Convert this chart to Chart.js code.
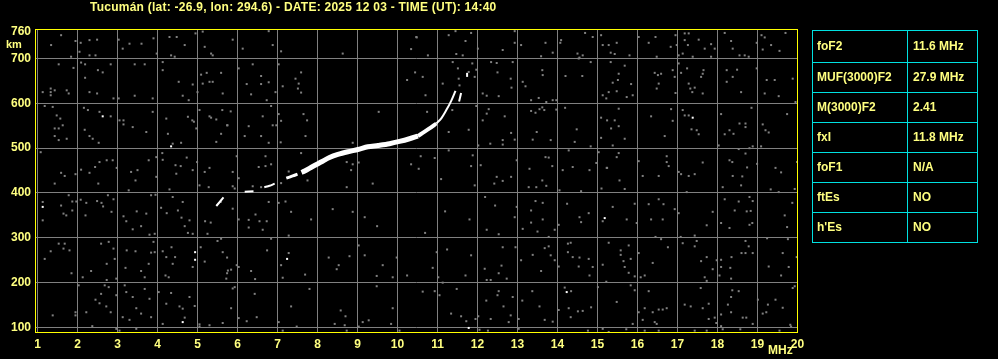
<!DOCTYPE html>
<html><head><meta charset="utf-8">
<script src="https://cdn.jsdelivr.net/npm/chart.js@4.4.1/dist/chart.umd.min.js"></script>
<style>
html,body{margin:0;padding:0;background:#000;width:998px;height:359px;overflow:hidden}
#wrap{position:relative;width:998px;height:359px}
#c{position:absolute;left:0;top:0}
.lbl{position:absolute;color:#ffff80;font-family:"Liberation Sans",Arial,sans-serif;font-weight:bold;white-space:nowrap;line-height:14px}
#title{left:90px;top:0px;font-size:12px;letter-spacing:0.25px}
#km{left:6px;top:37px;font-size:11px}
#mhz{left:768px;top:343px;font-size:12px}
#tbl{position:absolute;left:812px;top:30px;width:164px;height:211px;border:1px solid #00e0e0}
.hl{position:absolute;left:0;width:164px;height:0;border-top:1px solid #00e0e0}
.vl{position:absolute;top:0;height:211px;width:0;border-left:1px solid #00e0e0}
.cell{position:absolute;color:#ffff80;font:bold 12px "Liberation Sans",Arial,sans-serif;white-space:nowrap;line-height:14px}
</style>
</head><body>
<div id="wrap">
<canvas id="c" width="998" height="359"></canvas>
<div class="lbl" id="title">Tucumán (lat: -26.9, lon: 294.6) - DATE: 2025 12 03 - TIME (UT): 14:40</div>
<div class="lbl" id="km">km</div>
<div class="lbl" id="mhz">MHz</div>
<div id="tbl"></div>
</div>
<script>
// ---------- data ----------
const freqTicks = [1,2,3,4,5,6,7,8,9,10,11,12,13,14,15,16,17,18,19,20];
const heightTicks = [100,200,300,400,500,600,700,760];

const tableLabels = ['foF2','MUF(3000)F2','M(3000)F2','fxI','foF1','ftEs',"h'Es"];
const tableValues = ['11.6 MHz','27.9 MHz','2.41','11.8 MHz','N/A','NO','NO'];

// ionogram trace (frequency MHz, virtual height km)
const traceLow1 = [[5.47,371],[5.65,390]];
const traceLow2 = [[6.18,403],[6.40,404]];
const traceLow3 = [[6.67,413],[6.80,416],[6.93,421]];
const traceLow4 = [[7.22,433],[7.38,438],[7.50,442]];
const traceMain = [[7.60,446],[7.68,449],[7.88,459],[8.09,469],[8.30,479],[8.51,486],[8.76,492],[9.01,497],[9.26,503],[9.51,506],[9.80,510],[10.05,515],[10.30,521],[10.51,527]];
const traceBend = [[10.51,527],[10.63,534],[10.80,544],[10.97,555]];
const traceUpper = [[10.97,555],[11.09,566],[11.22,585],[11.34,605],[11.45,628]];
const traceBranch = [[11.54,604],[11.59,623]];
const traceTop = [[11.74,659],[11.74,668]];

// bright isolated echoes
const brightEchoes = [[2.63,571],[4.34,504],[1.13,369],[4.94,268],[4.94,251],[4.63,112],[7.24,253],[15.18,344],[14.23,179],[11.78,99],[17.38,568]];

// grey background noise echoes
const noiseEchoes = [
[1.34,730],[1.59,752],[1.95,739],[2.08,735],[2.05,715],[2.30,707],[2.45,707],[2.49,742],[2.30,741],[3.03,742],[3.13,722],[3.30,733],[3.60,733],[3.90,745],[3.98,711],[4.30,748],[4.48,748],[4.34,707],[4.68,730],[4.95,756],[5.13,760],[5.18,726],[5.34,711],[5.38,707],[1.84,704],[4.43,704],
[1.53,687],[1.90,679],[2.09,691],[2.19,687],[2.51,674],[2.63,669],[2.83,687],[3.43,687],[3.68,687],[4.13,692],[4.13,674],[1.33,633],[1.33,625],[1.33,618],[1.13,625],[1.43,629],[1.73,629],[1.78,622],[2.19,657],[2.30,625],[2.49,622],[2.90,611],[3.03,611],[3.43,617],[3.88,611],[4.53,648],[4.88,642],[4.63,617],[4.78,607],[5.00,625],[5.09,664],[5.23,668],[5.38,648],[5.59,668],[5.63,622],[5.13,644],[5.30,648],
[1.18,594],[1.38,592],[1.48,573],[1.57,566],[1.63,551],[1.43,544],[1.53,544],[1.43,527],[1.73,521],[1.53,518],[2.16,590],[2.26,585],[2.55,581],[2.83,571],[2.18,541],[2.30,527],[2.38,521],[2.53,512],[3.05,562],[3.15,562],[3.15,553],[3.38,547],[3.72,536],[3.88,581],[4.22,566],[4.26,532],[4.38,510],[4.59,512],[4.76,570],[4.87,562],[4.91,559],[4.97,544],[5.05,585],[5.30,571],[5.47,564],[5.62,585],[5.75,551],[5.59,532],[5.47,514],[5.34,568],
[1.08,491],[1.59,445],[1.68,438],[1.95,442],[2.09,452],[2.30,445],[2.44,458],[2.55,469],[2.73,473],[2.88,473],[2.98,456],[3.34,447],[3.45,428],[3.28,406],[3.50,451],[3.78,473],[3.97,480],[4.12,489],[4.13,474],[4.45,462],[4.58,460],[4.73,479],[4.88,451],[4.99,469],[5.05,417],[5.28,413],[5.18,447],[5.30,456],[1.43,421],[2.52,421],[3.97,436],[4.30,408],[4.47,443],
[1.13,380],[1.13,339],[1.59,372],[1.78,395],[1.87,381],[1.97,381],[1.65,354],[1.72,350],[1.87,361],[2.08,385],[2.22,378],[2.20,350],[2.49,382],[2.60,378],[2.64,370],[2.76,395],[2.85,358],[2.90,386],[3.15,348],[3.22,337],[3.38,319],[3.48,359],[3.59,326],[3.72,354],[3.84,395],[3.95,396],[3.80,307],[3.93,309],[4.09,367],[4.23,355],[4.38,391],[4.51,361],[4.63,380],[4.60,345],[4.68,326],[4.76,311],[4.80,339],[4.88,309],[5.19,337],[5.33,334],[5.58,380],[5.25,309],[5.59,298],[5.50,293],
[1.33,270],[1.18,253],[1.53,287],[1.68,287],[1.80,272],[1.65,276],[1.85,221],[2.13,212],[2.34,226],[2.59,287],[2.73,242],[2.78,291],[2.90,276],[2.93,253],[2.97,209],[2.73,206],[3.23,272],[3.20,233],[3.45,270],[3.59,226],[3.68,212],[3.84,267],[3.93,268],[3.78,242],[3.90,291],[4.13,270],[4.22,257],[4.38,242],[4.28,212],[4.20,216],[4.35,279],[4.44,257],[4.88,235],[5.08,279],[5.18,247],[5.63,268],[5.76,227],[5.72,209],
[1.38,127],[1.95,134],[1.95,127],[2.03,194],[2.22,134],[2.45,162],[2.55,154],[2.59,175],[2.68,194],[2.72,147],[2.78,190],[2.83,134],[2.97,172],[3.18,194],[3.22,179],[3.38,168],[3.47,143],[3.59,131],[3.68,186],[3.80,164],[3.84,123],[4.03,179],[4.13,108],[4.22,153],[4.34,177],[4.55,147],[4.63,142],[4.68,122],[4.80,168],[4.93,148],[5.05,107],[5.30,105],[5.63,110],[3.13,123],[3.30,117],[2.97,97],[2.37,103],[3.05,93],[3.47,97],[5.05,102],
[5.88,742],[6.13,722],[6.78,761],[6.88,730],[7.09,716],[8.63,711],[10.34,721],[10.48,747],[6.03,678],[6.38,687],[6.59,661],[6.23,643],[6.59,643],[6.78,647],[6.95,625],[7.03,687],[7.13,638],[7.45,655],[7.53,644],[7.51,633],[7.59,669],[7.59,624],[6.34,620],[6.73,607],[10.24,652],[10.44,669],
[5.83,582],[5.74,551],[6.28,549],[6.18,527],[6.59,527],[6.63,571],[6.78,512],[6.84,594],[6.88,551],[6.97,551],[7.03,576],[7.09,561],[7.08,513],[7.65,576],[7.74,562],[7.70,527],[9.53,581],[8.88,512],
[5.98,482],[5.88,447],[6.03,433],[6.53,458],[6.70,460],[6.84,464],[6.70,482],[5.88,415],[5.93,410],[6.38,415],[6.59,413],[7.09,422],[7.28,448],[7.59,489],[7.75,428],[8.73,469],[8.84,451],[8.88,464],[9.03,468],[9.38,421],[8.73,413],[10.34,464],
[5.88,365],[6.03,341],[6.28,340],[6.28,323],[6.45,352],[6.55,337],[6.63,318],[6.73,337],[6.78,380],[7.03,378],[7.20,381],[7.34,358],[7.28,305],[7.84,341],[8.38,364],[8.88,358],[9.18,346],[9.49,326],[6.84,298],
[5.74,256],[6.03,235],[5.98,239],[6.34,226],[6.44,208],[6.74,272],[7.09,239],[7.13,211],[7.28,266],[7.69,218],[8.28,256],[8.53,239],[8.48,230],[8.80,259],[9.03,283],[9.18,261],[9.48,215],[9.63,239],[9.88,212],[9.98,256],[10.24,216],[5.84,229],[5.74,221],
[5.88,187],[5.93,190],[6.43,175],[5.84,143],[6.03,121],[6.23,114],[6.48,123],[7.03,112],[7.34,147],[7.48,102],[7.80,186],[8.43,108],[8.58,138],[8.70,125],[8.68,105],[9.03,102],[9.13,112],[9.28,116],[9.48,192],[9.88,143],[9.84,108],[10.05,93],[8.73,93],[7.13,93],
[10.47,748],[11.28,752],[11.45,761],[11.70,739],[11.84,757],[12.01,722],[12.63,719],[12.93,761],[12.93,735],[13.09,730],[13.59,705],[13.70,735],[13.88,713],[14.09,741],[14.07,735],[14.50,711],[14.55,702],[14.63,707],[14.69,757],[14.88,748],[15.09,752],[10.76,707],[11.47,710],[11.63,707],[15.13,730],
[10.63,659],[10.70,618],[11.13,644],[11.38,692],[11.51,678],[11.53,655],[11.55,640],[11.78,670],[11.87,689],[11.97,675],[11.93,659],[12.13,622],[12.23,617],[12.34,692],[12.48,690],[12.50,669],[12.53,616],[12.88,692],[12.83,655],[12.85,635],[13.13,648],[13.20,638],[13.34,607],[13.53,612],[13.62,674],[13.63,663],[13.72,603],[13.88,607],[13.97,607],[14.20,661],[14.53,700],[14.62,661],[14.83,692],[15.13,618],[15.22,611],
[10.74,581],[11.28,536],[11.37,585],[11.78,541],[11.97,594],[12.13,562],[12.23,577],[12.28,587],[12.68,571],[12.84,534],[12.93,519],[12.63,518],[12.63,508],[12.32,510],[12.02,506],[13.34,583],[13.45,579],[13.55,587],[13.67,585],[13.62,591],[13.48,536],[13.38,519],[13.83,518],[13.97,586],[14.19,590],[14.48,542],[14.43,514],[14.83,504],[15.09,568],[15.09,523],
[10.58,482],[10.93,478],[10.53,454],[11.09,431],[11.28,495],[11.84,460],[11.88,484],[12.08,462],[11.93,417],[12.42,421],[12.48,436],[12.63,427],[12.84,436],[12.98,473],[13.28,413],[13.30,454],[13.47,413],[13.62,428],[13.70,480],[13.78,479],[13.87,460],[13.72,416],[14.05,406],[14.13,451],[14.28,495],[14.38,458],[14.80,451],[14.97,467],[15.03,491],[15.23,456],[15.10,410],[14.59,404],
[11.19,359],[11.80,341],[12.19,391],[12.44,372],[12.23,318],[12.53,308],[12.93,346],[12.98,369],[13.13,320],[13.34,361],[13.34,334],[13.45,382],[13.50,314],[13.63,378],[13.63,341],[13.78,302],[13.93,318],[14.03,329],[14.24,376],[14.55,346],[14.59,335],[14.78,355],[15.13,337],[10.69,311],
[10.98,268],[11.24,274],[10.88,233],[11.02,212],[11.70,216],[11.84,261],[12.18,231],[12.23,206],[12.33,206],[12.53,221],[12.63,279],[12.60,238],[12.73,209],[12.95,279],[13.09,250],[13.38,262],[13.59,226],[13.68,277],[13.78,281],[13.83,261],[13.93,250],[14.03,236],[14.26,287],[14.33,289],[14.26,268],[14.38,257],[14.55,256],[14.53,236],[14.78,253],[14.80,216],[14.88,235],[15.13,240],[15.22,202],
[10.63,180],[10.93,181],[11.05,172],[11.13,200],[11.34,131],[11.48,186],[11.59,125],[11.72,114],[11.95,119],[12.02,125],[12.33,119],[12.22,160],[12.53,181],[12.50,172],[12.65,147],[12.88,168],[12.83,127],[12.78,112],[13.03,119],[13.12,160],[13.37,181],[13.55,147],[13.68,117],[13.88,113],[14.03,139],[14.18,189],[14.34,181],[14.28,143],[14.33,123],[14.51,136],[14.63,137],[14.84,145],[15.01,190],[12.05,95],[12.26,93],[13.03,97],[14.76,93],[15.13,97],
[15.28,730],[15.33,713],[15.48,735],[15.43,710],[15.80,707],[16.03,748],[16.28,735],[16.45,748],[16.48,704],[16.83,726],[16.95,752],[16.98,730],[17.03,707],[17.18,756],[17.18,741],[17.28,756],[17.26,730],[17.13,711],[17.38,704],[17.53,742],[17.68,722],[17.84,732],[17.84,704],[17.93,722],[18.18,757],[18.34,739],[18.38,722],[18.55,707],[18.68,707],[18.78,704],[18.98,735],[19.10,752],[19.18,747],[19.13,720],[19.34,730],[19.55,717],[19.70,757],
[15.33,692],[15.53,666],[15.51,652],[15.38,646],[15.28,625],[15.48,627],[15.68,684],[15.84,643],[15.73,614],[15.88,618],[16.43,668],[16.51,663],[16.59,666],[16.53,644],[16.48,633],[16.88,674],[16.93,659],[16.95,623],[17.03,689],[17.09,668],[17.24,678],[17.28,644],[17.32,633],[17.37,625],[17.43,635],[17.63,622],[17.65,674],[17.63,666],[17.59,659],[18.23,674],[18.23,648],[18.38,659],[18.49,675],[18.59,625],[18.98,678],[19.23,652],[19.43,652],[19.18,622],[19.53,616],[19.88,655],[19.95,603],
[15.24,562],[15.34,544],[15.43,562],[15.53,549],[15.53,588],[15.38,506],[15.68,521],[16.34,571],[16.68,527],[16.84,587],[16.88,561],[17.13,585],[17.18,573],[17.28,573],[17.35,542],[17.48,540],[17.53,531],[18.09,576],[18.18,531],[18.30,540],[18.40,532],[18.55,555],[18.70,555],[18.70,547],[18.85,590],[19.13,553],[19.20,540],[19.28,535],[19.74,576],[18.03,506],[18.88,504],[19.09,504],
[15.53,489],[15.48,480],[15.24,456],[15.55,428],[15.68,409],[16.03,471],[16.13,438],[16.53,438],[16.73,482],[16.73,469],[16.78,460],[17.03,447],[17.09,442],[17.28,438],[17.43,442],[17.63,468],[17.23,402],[18.13,413],[18.30,473],[18.37,469],[18.38,438],[18.53,498],[18.62,437],[18.59,417],[18.70,488],[18.74,457],[18.80,500],[18.99,465],[19.33,408],[19.45,456],[19.53,402],[19.59,446],[19.93,409],[19.99,469],
[15.38,369],[15.73,341],[15.93,376],[15.98,333],[16.28,375],[16.34,341],[16.53,386],[16.65,375],[16.63,341],[16.45,302],[16.59,297],[16.93,364],[17.03,355],[17.08,302],[17.43,305],[17.73,328],[17.88,358],[18.09,333],[18.18,386],[18.30,322],[18.43,361],[18.53,381],[18.73,359],[18.83,360],[18.80,391],[18.88,382],[18.87,333],[18.80,329],[19.24,299],[19.68,350],[19.74,324],[19.87,378],[19.76,297],
[15.28,289],[15.58,272],[15.58,262],[15.78,283],[15.65,248],[15.83,253],[15.68,235],[15.78,222],[15.93,214],[16.03,266],[16.08,212],[16.18,216],[16.38,244],[16.76,279],[17.13,288],[17.43,281],[17.48,293],[17.59,248],[17.73,257],[17.88,230],[17.68,212],[17.73,204],[17.98,250],[18.09,251],[18.09,235],[18.05,216],[18.35,257],[18.32,233],[18.34,209],[18.60,266],[18.70,266],[18.70,293],[18.78,281],[18.88,266],[19.28,236],[19.59,216],[19.78,235],[19.63,266],[19.98,257],
[15.83,194],[15.93,183],[15.48,157],[15.88,108],[16.03,134],[16.13,117],[16.18,143],[16.28,181],[16.38,134],[16.43,112],[16.48,108],[16.53,140],[16.63,140],[16.73,143],[17.18,151],[17.33,147],[17.58,188],[17.63,143],[17.78,153],[17.78,119],[17.93,122],[17.97,110],[18.09,129],[18.09,103],[18.26,151],[18.34,168],[18.34,134],[18.37,183],[18.53,181],[18.63,122],[18.72,122],[18.88,108],[19.01,162],[19.13,131],[19.26,151],[19.22,134],[19.45,162],[19.63,144],[19.82,106],[19.84,102],[19.88,188],[19.93,192],
[16.18,93],[16.53,93],[17.43,93],[17.73,93],[18.13,96],[18.57,96],[19.55,93],[15.72,96],[15.28,90]
];

// ---------- build ----------
const pts = a => a.map(p => ({x:p[0], y:p[1]}));
const traceDs = (arr, w) => ({type:'line', data:pts(arr), borderColor:'#ffffff', borderWidth:w, pointRadius:0, tension:0.3, borderCapStyle:'butt', borderJoinStyle:'round', order:1});

const borderPlugin = {
  id:'frame',
  afterDraw(chart){
    const a = chart.chartArea, c = chart.ctx;
    c.save();
    c.strokeStyle = '#ffff00';
    c.lineWidth = 1;
    c.strokeRect(Math.round(a.left)+0.5, Math.round(a.top)+0.5, Math.round(a.right)-Math.round(a.left)-1, Math.round(a.bottom)-Math.round(a.top)-1);
    c.restore();
  }
};

const tickFont = {family:'"Liberation Sans", Arial, sans-serif', weight:'bold', size:12};

new Chart(document.getElementById('c'), {
  type:'scatter',
  data:{datasets:[
    {data:pts(noiseEchoes), backgroundColor:'#808080', borderWidth:0, pointStyle:'rect', pointRadius:1.42, order:3},
    {data:pts(brightEchoes), backgroundColor:'#ffffff', borderWidth:0, pointStyle:'rect', pointRadius:1.42, order:2},
    traceDs(traceLow1,2), traceDs(traceLow2,2), traceDs(traceLow3,2), traceDs(traceLow4,3),
    traceDs(traceMain,5), traceDs(traceBend,4), traceDs(traceUpper,2), traceDs(traceBranch,2), traceDs(traceTop,2)
  ]},
  options:{
    responsive:false, animation:false, devicePixelRatio:1,
    layout:{padding:{left:0, top:29, right:200, bottom:0}},
    plugins:{legend:{display:false}, tooltip:{enabled:false}, title:{display:false}},
    events:[],
    scales:{
      x:{type:'linear', min:0.9375, max:20.0125,
         afterFit(s){ s.height = 26; },
         afterBuildTicks(s){ s.ticks = freqTicks.map(v => ({value:v})); },
         grid:{color:'#808080', lineWidth:1, drawTicks:false},
         border:{display:false},
         ticks:{color:'#ffff80', font:tickFont, padding:4, maxRotation:0, autoSkip:false}},
      y:{type:'linear', min:87.7, max:765.8,
         afterFit(s){ s.width = 35; },
         afterBuildTicks(s){ s.ticks = heightTicks.map(v => ({value:v})); },
         grid:{color:ctx => (ctx.tick && ctx.tick.value === 760) ? 'rgba(0,0,0,0)' : '#808080', lineWidth:1, drawTicks:false},
         border:{display:false},
         ticks:{color:'#ffff80', font:tickFont, padding:4, autoSkip:false}}
    }
  },
  plugins:[borderPlugin]
});

// ---------- parameter table ----------
const tbl = document.getElementById('tbl');
const rowTops = [0,32,62,92,122,152,182];   // offsets of row lines inside the box
const rowBottoms = [32,62,92,122,152,182,212];
rowTops.slice(1).forEach(t => { const d=document.createElement('div'); d.className='hl'; d.style.top=(t-1)+'px'; tbl.appendChild(d); });
const v = document.createElement('div'); v.className='vl'; v.style.left='94px'; tbl.appendChild(v);
tableLabels.forEach((lab,i) => {
  const mid = (rowTops[i]+rowBottoms[i])/2 - 1;
  const a = document.createElement('div'); a.className='cell'; a.textContent=lab; a.style.left='4px'; a.style.top=(mid-7)+'px'; tbl.appendChild(a);
  const b = document.createElement('div'); b.className='cell'; b.textContent=tableValues[i]; b.style.left='100px'; b.style.top=(mid-7)+'px'; tbl.appendChild(b);
});
</script>
</body></html>
